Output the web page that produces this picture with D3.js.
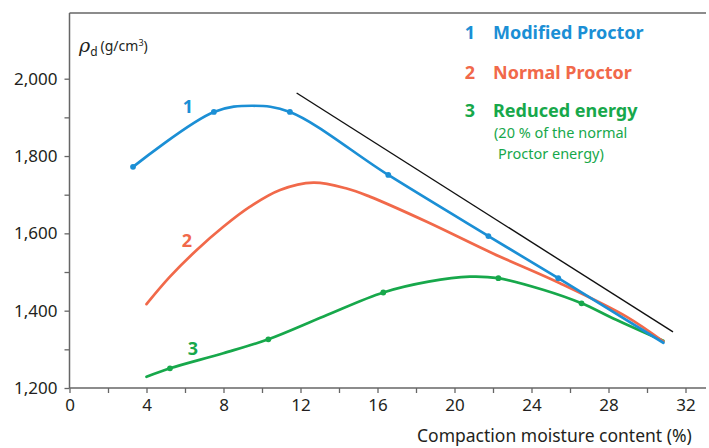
<!DOCTYPE html>
<html><head><meta charset="utf-8">
<script src="https://cdn.jsdelivr.net/npm/d3@7"></script>
<style>body{margin:0;background:#fff}svg{display:block}text{font-family:"Noto Sans",sans-serif}</style>
</head><body><svg id="c" width="709" height="448"></svg>
<script>
const xTicks = [0,4,8,12,16,20,24,28,32];
const yTicks = [1200,1400,1600,1800,2000];
const modifiedX = [3.3,7.5,9.5,11.45,16.56,21.76,25.39,30.85];
const modifiedY = [1772,1914,1930,1914,1751,1593,1484,1317];
const modifiedMarkX = [3.3,7.5,11.45,16.56,21.76,25.39];
const normalX = [4.0,5.22,6.61,7.99,9.38,10.94,12.67,14.4,15.6,18.56,22.0,25.48,28.95,30.85];
const normalY = [1417,1488,1557,1617,1669,1712,1731,1716,1695,1630,1548,1471,1384,1320];
const reducedX = [4.0,5.22,7.99,10.33,13.2,16.3,18.65,20.8,22.28,24.6,26.6,28.25,30.85];
const reducedY = [1229,1251,1290,1326,1385,1447,1475,1488,1484,1454,1419,1380,1322];
const reducedMarkX = [5.22,10.33,16.3,22.28,26.6];
const lineX = [11.8,31.35];
const lineY = [1963,1345];
const colors = {m:"#1b8fd5", n:"#f1694a", r:"#17a84b"};

const svg = d3.select("#c");
const x = d3.scaleLinear().domain([0,32]).range([69.5,685.5]);
const y = d3.scaleLinear().domain([1200,2000]).range([388,78.7]);
const axisCol = "#666";
const txtCol = "#231f20";

// frame lines
svg.append("line").attr("x1",69.5).attr("x2",706).attr("y1",13).attr("y2",13).attr("stroke",axisCol).attr("stroke-width",1.5);
svg.append("line").attr("x1",69.5).attr("x2",69.5).attr("y1",13).attr("y2",388).attr("stroke",axisCol).attr("stroke-width",1.5);
svg.append("line").attr("x1",69.5).attr("x2",706).attr("y1",388).attr("y2",388).attr("stroke",axisCol).attr("stroke-width",1.5);

// x axis
const xa = svg.append("g").attr("transform","translate(0,388)")
  .call(d3.axisBottom(x).tickValues(d3.range(0,33,2)).tickSize(5).tickFormat(d=>xTicks.includes(d)?d:""));
xa.select(".domain").remove();
xa.selectAll("line").attr("stroke",axisCol).attr("stroke-width",1.3);
xa.selectAll("text").attr("fill",txtCol).style("font-size","17px").attr("y",10).attr("dy","0.75em");
// y axis
const ya = svg.append("g").attr("transform","translate(69.5,0)")
  .call(d3.axisLeft(y).tickValues(d3.range(1200,2001,100)).tickSize(5).tickFormat(d=>yTicks.includes(d)?d3.format(",")(d):""));
ya.select(".domain").remove();
ya.selectAll("line").attr("stroke",axisCol).attr("stroke-width",1.3);
ya.selectAll("text").attr("fill",txtCol).style("font-size","17px").attr("x",-12);

// black line
svg.append("line").attr("x1",x(lineX[0])).attr("y1",y(lineY[0])).attr("x2",x(lineX[1])).attr("y2",y(lineY[1])).attr("stroke","#111").attr("stroke-width",1.4);

const line = d3.line().x(d=>x(d[0])).y(d=>y(d[1])).curve(d3.curveCatmullRom.alpha(0.5));
function series(xs, ys, col){
  const pts = xs.map((v,i)=>[v,ys[i]]);
  svg.append("path").datum(pts).attr("d",line).attr("fill","none").attr("stroke",col).attr("stroke-width",2.7).attr("stroke-linecap","round");
}
series(reducedX, reducedY, colors.r);
series(normalX, normalY, colors.n);
series(modifiedX, modifiedY, colors.m);
function marks(mx, xs, ys, col){
  mx.forEach(v=>{const i=xs.indexOf(v); svg.append("circle").attr("cx",x(v)).attr("cy",y(ys[i])).attr("r",2.9).attr("fill",col);});
}
marks(modifiedMarkX, modifiedX, modifiedY, colors.m);
marks(reducedMarkX, reducedX, reducedY, colors.r);

// curve labels
svg.append("text").attr("x",188).attr("y",113).attr("text-anchor","middle").attr("fill",colors.m).style("font-size","18px").style("font-weight","bold").text("1");
svg.append("text").attr("x",187).attr("y",247).attr("text-anchor","middle").attr("fill",colors.n).style("font-size","18px").style("font-weight","bold").text("2");
svg.append("text").attr("x",193).attr("y",355).attr("text-anchor","middle").attr("fill",colors.r).style("font-size","18px").style("font-weight","bold").text("3");

// legend
const leg = [["1","Modified Proctor",colors.m,39],["2","Normal Proctor",colors.n,79],["3","Reduced energy",colors.r,117]];
leg.forEach(l=>{
  svg.append("text").attr("x",470).attr("y",l[3]).attr("text-anchor","middle").attr("fill",l[2]).style("font-size","18px").style("font-weight","bold").text(l[0]);
  svg.append("text").attr("x",493).attr("y",l[3]).attr("fill",l[2]).style("font-size","18px").style("font-weight","bold").text(l[1]);
});
svg.append("text").attr("x",494).attr("y",138).attr("fill",colors.r).style("font-size","14.5px").text("(20 % of the normal");
svg.append("text").attr("x",498).attr("y",159).attr("fill",colors.r).style("font-size","14.5px").text("Proctor energy)");

// y label
const yl = svg.append("text").attr("x",79).attr("y",52).attr("fill",txtCol);
yl.append("tspan").style("font-size","19px").style("font-style","italic").style("font-family","'DejaVu Serif',serif").text("ρ");
yl.append("tspan").style("font-size","12px").attr("dy",4).text("d");
yl.append("tspan").style("font-size","14px").attr("dy",-5).attr("dx",3).text("(g/cm");
yl.append("tspan").style("font-size","9px").attr("dy",-5).text("3");
yl.append("tspan").style("font-size","14px").attr("dy",5).text(")");

// x label
svg.append("text").attr("x",417).attr("y",442).attr("fill",txtCol).style("font-size","17.5px").text("Compaction moisture content (%)");
</script></body></html>
